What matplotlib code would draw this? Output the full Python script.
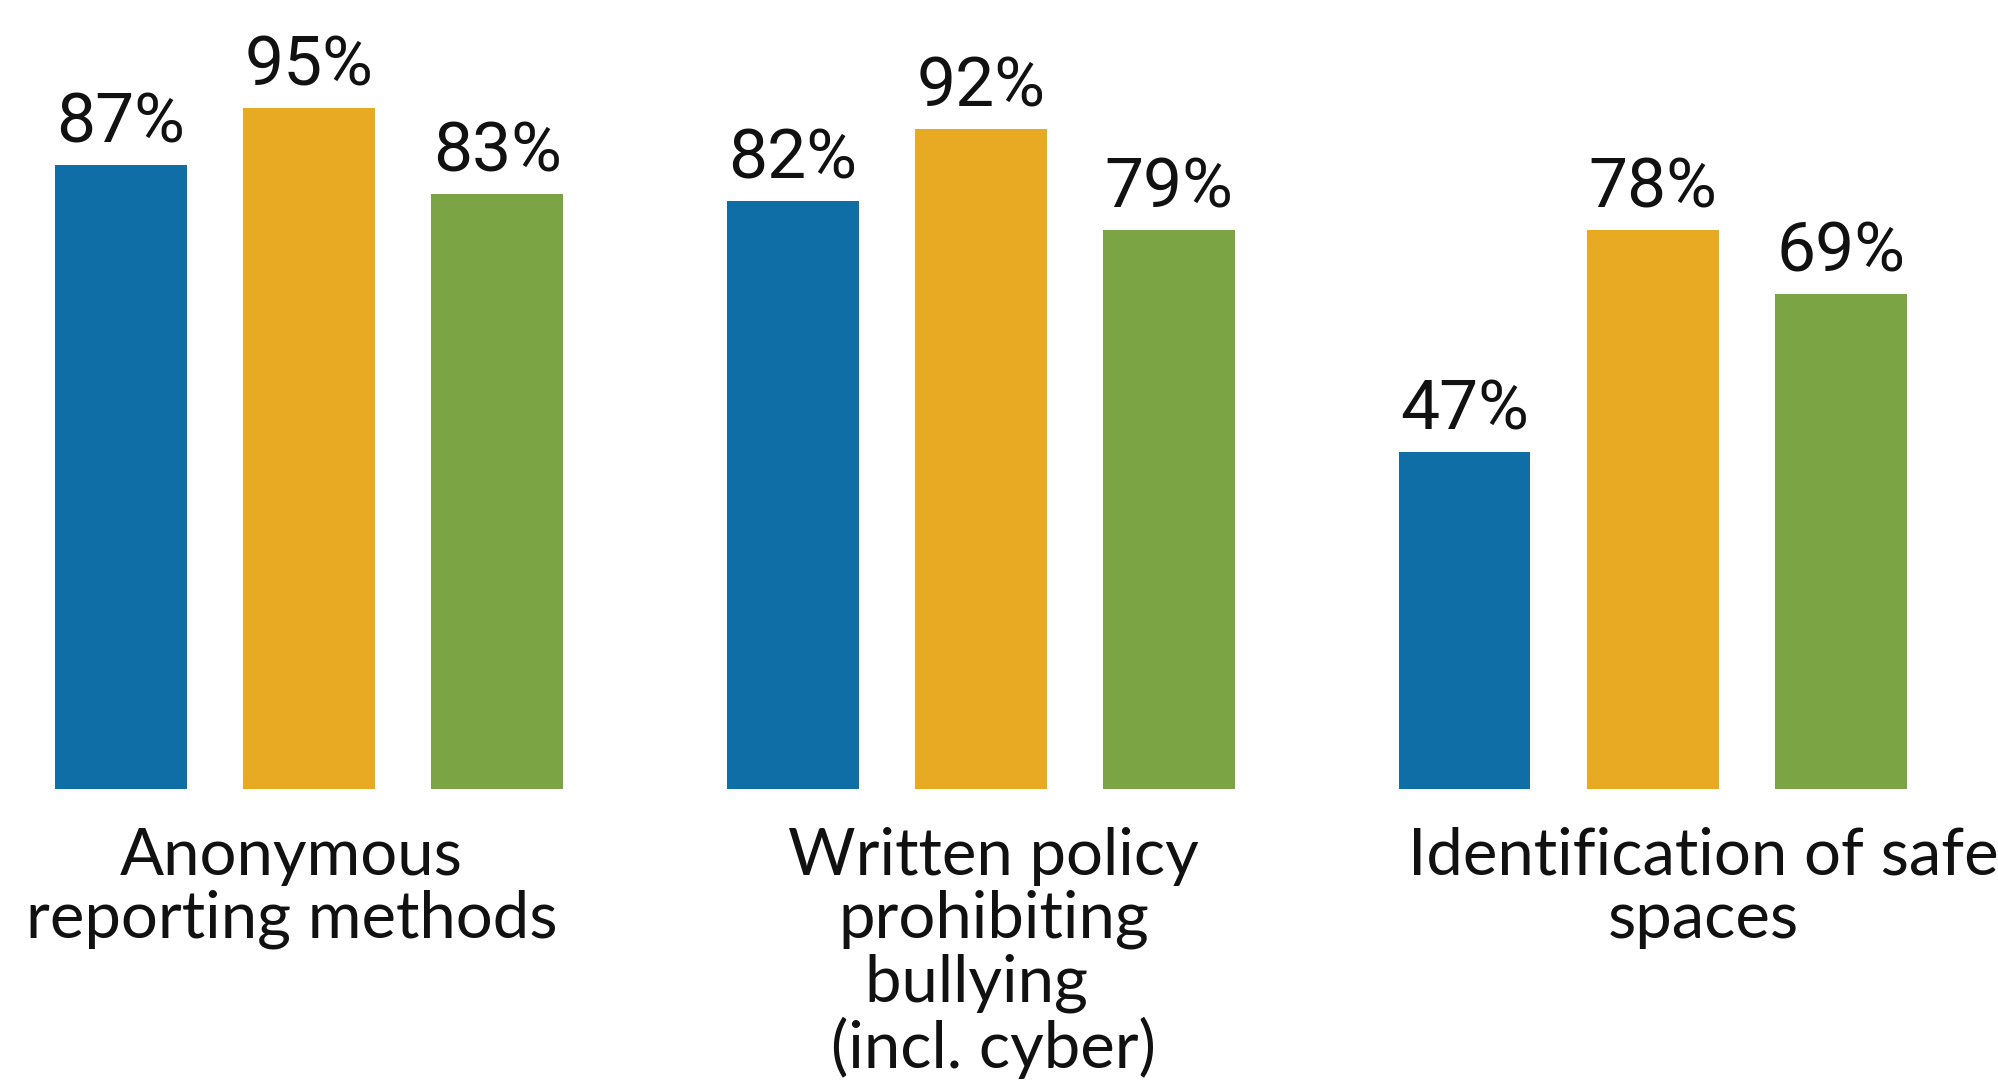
import matplotlib
matplotlib.use("Agg")
import matplotlib.pyplot as plt
import numpy as np

categories = ["Anonymous\nreporting methods",
              "Written policy\nprohibiting\nbullying  \n(incl. cyber)",
              "Identification of safe\nspaces"]
series_a = [87, 82, 47]
series_b = [95, 92, 78]
series_c = [83, 78, 69]
value_labels_a = ["87%", "82%", "47%"]
value_labels_b = ["95%", "92%", "78%"]
value_labels_c = ["83%", "79%", "69%"]

colors = ["#106EA6", "#E8AA22", "#7BA445"]

W, H = 1998, 1083
fig = plt.figure(figsize=(W / 100, H / 100), dpi=100)
ax = fig.add_axes([0, 0, 1, 1])
ax.set_xlim(-0.460, 2.514)
ax.set_ylim(-41.0, 110.0)
ax.axis("off")

x = np.arange(len(categories))
off = 0.28
width = 0.196
for i, (vals, labs) in enumerate([(series_a, value_labels_a),
                                  (series_b, value_labels_b),
                                  (series_c, value_labels_c)]):
    xs = x + (i - 1) * off
    ax.bar(xs, vals, width=width, color=colors[i], linewidth=0)
    for xi, v, lab in zip(xs, vals, labs):
        ax.annotate(lab, (xi, v), xytext=(0, 16), textcoords="offset points",
                    ha="center", va="baseline", fontsize=50,
                    family=["Roboto", "DejaVu Sans"], color="#111111")

label_offsets = [-0.026, 0.019, 0.075]
for xi, cat, lo in zip(x, categories, label_offsets):
    ax.text(xi + lo, -5.3, cat, ha="center", va="top", fontsize=47,
            family=["Lato", "DejaVu Sans"], linespacing=1.08, color="#111111",
            clip_on=False)

fig.savefig("out.png", dpi=100)
